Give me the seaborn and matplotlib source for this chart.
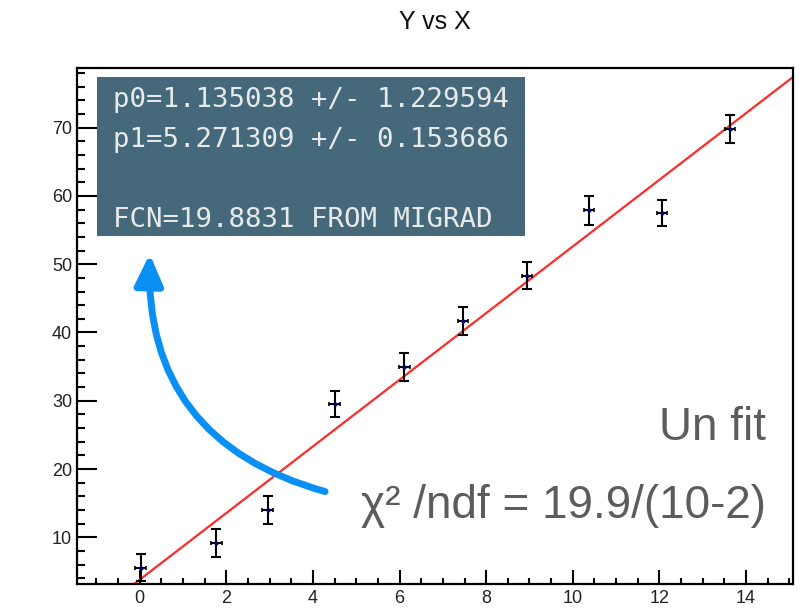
import numpy as np
import pandas as pd
import seaborn as sb
import matplotlib.pyplot as plt
from matplotlib.ticker import MultipleLocator
from matplotlib.patches import Rectangle


# Graph points
x_values = [0.02, 1.77, 2.95, 4.50, 6.11, 7.46, 8.94, 10.38, 12.06, 13.63]
y_values = [5.55, 9.2, 14.0, 29.5, 34.9, 41.7, 48.3, 57.9, 57.5, 69.85]
x_errors = [0.12, 0.12, 0.12, 0.12, 0.12, 0.12, 0.12, 0.12, 0.12, 0.12]
y_errors = [2.0, 2.05, 2.05, 1.9, 2.05, 2.1, 2.0, 2.1, 1.95, 2.07]

# red fit line as drawn
fit_intercept = 3.8
fit_slope = 4.88

x_range = (-1.45, 15.08)
y_range = (3.16, 78.7)
x_ticks = [0, 2, 4, 6, 8, 10, 12, 14]
y_ticks = [10, 20, 30, 40, 50, 60, 70]

title = "Y vs X"
stats_lines = ["p0=1.135038 +/- 1.229594",
               "p1=5.271309 +/- 0.153686",
               "",
               "FCN=19.8831 FROM MIGRAD"]
note_top = "Un fit"
note_bottom = "\u03c7\u00b2 /ndf = 19.9/(10-2)"

W, H = 807, 609


def px(x, y):
    """pixel position -> figure fraction"""
    return x / W, 1 - y / H


sb.set_theme(style="white")
plt.rcParams['font.family'] = ['Liberation Sans', 'DejaVu Sans']

fig = plt.figure(figsize=(W / 100, H / 100), dpi=100)
fig.patch.set_facecolor("white")
ax = fig.add_axes([77 / W, 1 - 584 / H, (792.7 - 77) / W, (584 - 68.3) / H])
ax.set_facecolor("white")

df = pd.DataFrame({"x": x_values, "y": y_values, "ex": x_errors, "ey": y_errors})

# fit line
line_x = np.array(x_range)
line = pd.DataFrame({"x": line_x, "y": fit_intercept + fit_slope * line_x})
sb.lineplot(data=line, x="x", y="y", color="#ff2a2a", lw=1.6, ax=ax, zorder=2)

# error bars and markers
ax.errorbar(df.x, df.y, yerr=df.ey, fmt="none", ecolor="black",
            elinewidth=1.5, capsize=3.3, capthick=1.5, zorder=3)
ax.errorbar(df.x, df.y, xerr=df.ex, fmt="none", ecolor="black",
            elinewidth=1.5, capsize=1.6, capthick=1.2, zorder=3)
sb.scatterplot(data=df, x="x", y="y", color="#000080", s=9, marker="o",
               linewidth=0, ax=ax, zorder=4)

ax.set_xlim(*x_range)
ax.set_ylim(*y_range)
ax.set_xticks(x_ticks)
ax.set_yticks(y_ticks)
ax.xaxis.set_minor_locator(MultipleLocator(0.5))
ax.yaxis.set_minor_locator(MultipleLocator(2))
ax.set_xlabel("")
ax.set_ylabel("")

for s in ax.spines.values():
    s.set_color("black")
    s.set_linewidth(1.6)

ax.tick_params(axis="both", which="both", direction="in", bottom=True, left=True,
               top=False, right=False, width=1.5, color="black",
               labelsize=13, labelcolor="#222222")
ax.tick_params(axis="y", which="major", length=14.4, pad=3.6)
ax.tick_params(axis="y", which="minor", length=6)
ax.tick_params(axis="x", which="major", length=10, pad=4.3)
ax.tick_params(axis="x", which="minor", length=4.3)

# title
fig.text(*px(435, 22), title, ha="center", va="center", fontsize=18,
         family=["Liberation Sans Narrow", "Liberation Sans"], color="#111111")

# stats box
x0, y0 = px(97, 236)
x1, y1 = px(525, 77)
fig.patches.append(Rectangle((x0, y0), x1 - x0, y1 - y0, transform=fig.transFigure,
                             facecolor="#45697a", edgecolor="none", zorder=5))
for i, txt in enumerate(stats_lines):
    if txt:
        fig.text(*px(113.3, 106.7 + 40 * i), txt, ha="left", va="baseline",
                 fontsize=19.7, family="DejaVu Sans Mono", color="#e6eaec", zorder=6)

# curved arrow
ax.annotate("", xy=(0.23, 51.5), xytext=(4.28, 16.7),
            arrowprops=dict(arrowstyle="-|>,head_length=1.85,head_width=0.85",
                            mutation_scale=10, connectionstyle="arc3,rad=-0.39",
                            lw=5, color="#0a8ff5", shrinkA=0, shrinkB=0),
            zorder=6)

# notes
fig.text(*px(766, 440), note_top, ha="right", va="baseline", fontsize=33,
         color="#5c5c5c")
fig.text(*px(766, 518), note_bottom, ha="right", va="baseline", fontsize=33,
         color="#5c5c5c")

plt.savefig("out.png", dpi=100)
